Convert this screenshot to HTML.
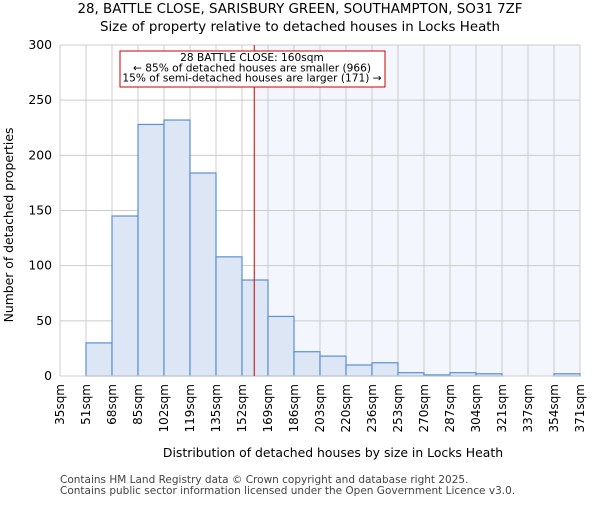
<!DOCTYPE html>
<html><head><meta charset="utf-8"><style>body{margin:0;background:#fff}svg{font-family:"DejaVu Sans","Liberation Sans",sans-serif}</style></head>
<body>
<svg id="c" width="600" height="500">
<text x="300" y="13" text-anchor="middle" font-size="13.4">28, BATTLE CLOSE, SARISBURY GREEN, SOUTHAMPTON, SO31 7ZF</text>
<text x="300" y="31" text-anchor="middle" font-size="13.4">Size of property relative to detached houses in Locks Heath</text>
<g id="plot"></g>
<text x="333" y="457" text-anchor="middle" font-size="12.4">Distribution of detached houses by size in Locks Heath</text>
<text transform="translate(13,225) rotate(-90)" text-anchor="middle" font-size="12.4">Number of detached properties</text>
<text x="60" y="483" font-size="10.5" fill="#444">Contains HM Land Registry data © Crown copyright and database right 2025.</text>
<text x="60" y="494" font-size="10.5" fill="#444">Contains public sector information licensed under the Open Government Licence v3.0.</text>
</svg>
<script>
const binLabels=["35sqm","51sqm","68sqm","85sqm","102sqm","119sqm","135sqm","152sqm","169sqm","186sqm","203sqm","220sqm","236sqm","253sqm","270sqm","287sqm","304sqm","321sqm","337sqm","354sqm","371sqm"];
const counts=[0,30,145,228,232,184,108,87,54,22,18,10,12,3,1,3,2,0,0,2];
const yTicks=[0,50,100,150,200,250,300];
const marker=160;
const ns="http://www.w3.org/2000/svg";
const L=60,R=580,T=45,B=376,yMax=300;
const nb=counts.length,bw=(R-L)/nb;
const x=i=>L+i*bw;
const y=v=>B-(v/yMax)*(B-T);
const xs=s=>{const e=binLabels.map(l=>parseFloat(l));for(let i=0;i<e.length-1;i++){if(s<=e[i+1])return x(i)+(s-e[i])/(e[i+1]-e[i])*bw;}return R;};
const g=document.getElementById('plot');
function mk(t,a,p){const e=document.createElementNS(ns,t);for(const k in a)e.setAttribute(k,a[k]);(p||g).appendChild(e);return e;}
const mx=xs(marker);
let e=mk('rect',{x:mx,y:T,width:R-mx,height:B-T,fill:'#f3f6fd'});


yTicks.forEach(t=>{
 let l=mk('line',{x1:L,x2:R,y1:y(t),y2:y(t),stroke:'#ccc'});
 
 
 let tx=mk('text',{x:L-8,y:y(t)+4,'text-anchor':'end','font-size':12.4});
 tx.textContent=t;
 
 
});
binLabels.forEach((lab,i)=>{
 let l=mk('line',{x1:x(i),x2:x(i),y1:T,y2:B,stroke:'#ccc'});
 
 
 let tx=mk('text',{transform:`translate(${x(i)+4},${B+8}) rotate(-90)`,'text-anchor':'end','font-size':12});
 tx.textContent=lab;
 
 
});
counts.forEach((v,i)=>{
 if(v<=0)return;
 let r=mk('rect',{x:x(i),y:y(v),width:bw,height:B-y(v),fill:'#dce6f5',stroke:'#5b8fd4','stroke-width':1.2});
 
 
});
e=mk('line',{x1:L,x2:R,y1:B,y2:B,stroke:'#ccc'});


e=mk('line',{x1:mx,x2:mx,y1:T,y2:B,stroke:'#cc0000','stroke-width':1});


const ag=mk('g',{});


mk('rect',{x:120,y:51,width:265,height:36,fill:'#fff',stroke:'#cc0000'},ag);
["28 BATTLE CLOSE: 160sqm","← 85% of detached houses are smaller (966)","15% of semi-detached houses are larger (171) →"].forEach((s,i)=>{
 let t=mk('text',{x:252,y:61+i*10.3,'text-anchor':'middle','font-size':10.6},ag);
 t.textContent=s;
});
</script>
</body></html>
